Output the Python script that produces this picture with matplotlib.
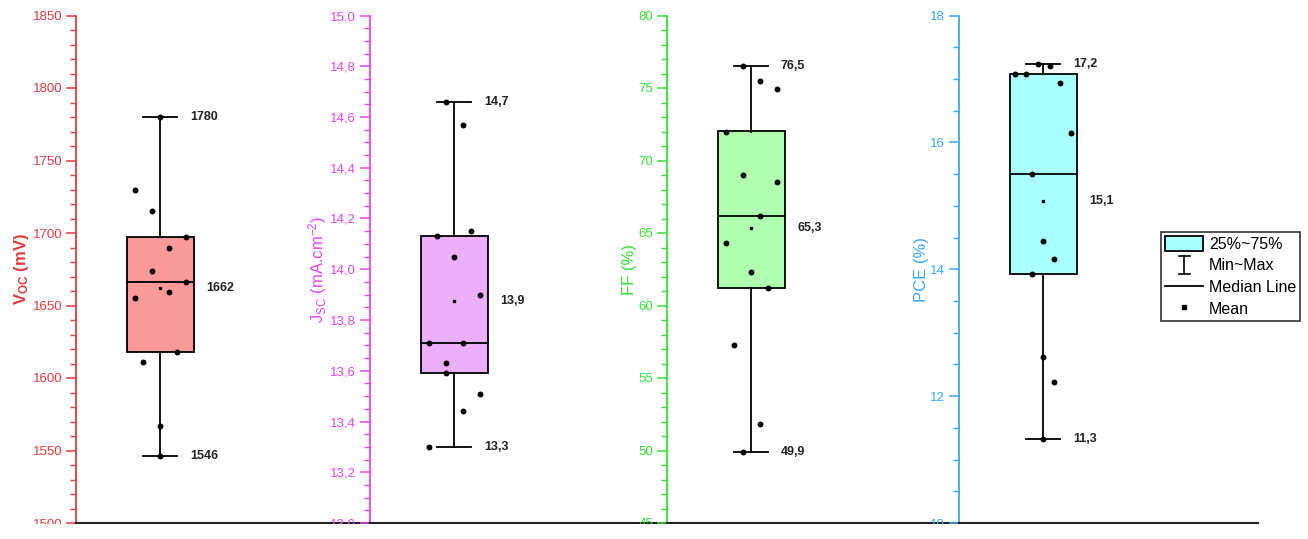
import matplotlib
matplotlib.use('Agg')
import matplotlib.pyplot as plt
import numpy as np
from matplotlib.ticker import MultipleLocator, FuncFormatter
from matplotlib.patches import Rectangle, Patch
from matplotlib.lines import Line2D
from matplotlib.legend_handler import HandlerBase

plt.rcParams['font.family'] = ['Liberation Sans', 'DejaVu Sans']
plt.rcParams['mathtext.fontset'] = 'custom'
plt.rcParams['mathtext.rm'] = 'Liberation Sans'
plt.rcParams['mathtext.bf'] = 'Liberation Sans:bold'
plt.rcParams['mathtext.it'] = 'Liberation Sans:italic'

# ---------------- data ----------------
voc = [1780, 1730, 1715, 1697, 1690, 1674, 1666, 1659, 1655, 1618, 1611, 1567, 1546]
voc_jitter = [0, -0.3, -0.1, 0.3, 0.1, -0.1, 0.3, 0.1, -0.3, 0.2, -0.2, 0, 0]
jsc = [14.66, 14.57, 14.15, 14.13, 14.05, 13.90, 13.71, 13.71, 13.63, 13.59, 13.51, 13.44, 13.30]
jsc_jitter = [-0.1, 0.1, 0.2, -0.2, 0, 0.3, -0.3, 0.1, -0.1, -0.1, 0.3, 0.1, -0.3]
ff = [76.5, 75.5, 74.9, 72.0, 69.0, 68.5, 66.2, 64.3, 62.3, 61.2, 57.3, 51.8, 49.9]
ff_jitter = [-0.1, 0.1, 0.3, -0.3, -0.1, 0.3, 0.1, -0.3, 0, 0.2, -0.2, 0.1, -0.1]
pce = [17.24, 17.21, 17.08, 17.08, 16.94, 16.15, 15.50, 14.44, 14.16, 13.93, 12.62, 12.23, 11.33]
pce_jitter = [-0.06, 0.075, -0.33, -0.2, 0.2, 0.33, -0.13, 0, 0.13, -0.13, 0, 0.13, 0]

ylabels = [r"V$_{\mathbf{OC}}$ (mV)", r"J$_{\mathrm{SC}}$ (mA.cm$^{\mathrm{-2}}$)", "FF (%)", "PCE (%)"]
legend_labels = ["25%~75%", "Min~Max", "Median Line", "Mean"]

panels = [
    dict(vals=voc, jit=voc_jitter, ylim=(1500, 1850), major=50, minor=10, tickdec=0, valdec=0,
         color='#E23B3B', fill='#FA9A9A', label=ylabels[0], bold=True),
    dict(vals=jsc, jit=jsc_jitter, ylim=(13.0, 15.0), major=0.2, minor=0.05, tickdec=1, valdec=1,
         color='#E646F2', fill='#EBAFFB', label=ylabels[1], bold=False),
    dict(vals=ff, jit=ff_jitter, ylim=(45, 80), major=5, minor=1, tickdec=0, valdec=1,
         color='#33E033', fill='#B0FFB0', label=ylabels[2], bold=False),
    dict(vals=pce, jit=pce_jitter, ylim=(10, 18), major=2, minor=0.5, tickdec=0, valdec=1,
         color='#3AA8FF', fill='#AAFFFF', label=ylabels[3], bold=False),
]

W, H = 1308, 539
fig = plt.figure(figsize=(W / 100, H / 100), dpi=100)
fig.patch.set_facecolor('white')

lefts = [76, 370, 667, 959]
rights = [370, 667, 959, 1258]
ax_top, ax_bot = 15.5, 523.0
PX_PER_UNIT = 84.3


def fmt(v, dec):
    return f"{v:.{dec}f}".replace('.', ',')


for p, l, r in zip(panels, lefts, rights):
    ax = fig.add_axes([l / W, 1 - ax_bot / H, (r - l) / W, (ax_bot - ax_top) / H])
    ax.set_facecolor('none')
    vals = np.array(p['vals'])
    jit = np.array(p['jit'])
    q1, med, q3 = np.percentile(vals, [25, 50, 75])
    mn, mx, mean = vals.min(), vals.max(), vals.mean()
    c = 1.0
    ax.add_patch(Rectangle((c - 0.4, q1), 0.8, q3 - q1, facecolor=p['fill'], edgecolor='black',
                           lw=1.3, zorder=2))
    ax.plot([c - 0.4, c + 0.4], [med, med], color='black', lw=1.3, zorder=3)
    ax.plot([c, c], [q3, mx], color='black', lw=1.3, zorder=2)
    ax.plot([c, c], [mn, q1], color='black', lw=1.3, zorder=2)
    ax.plot([c - 0.2, c + 0.2], [mx, mx], color='black', lw=1.3, zorder=2)
    ax.plot([c - 0.2, c + 0.2], [mn, mn], color='black', lw=1.3, zorder=2)
    ax.scatter(c + jit, vals, s=18, color='black', zorder=4, linewidths=0)
    ax.plot([c], [mean], marker='s', ms=2.0, color='black', ls='none', zorder=4)
    tk = dict(va='center', ha='left', fontsize=9, fontweight='bold', color='#222222')
    ax.text(c + 0.35, mx, fmt(mx, p['valdec']), **tk)
    ax.text(c + 0.35, mn, fmt(mn, p['valdec']), **tk)
    ax.text(c + 0.55, mean, fmt(mean, p['valdec']), **tk)

    ax.set_xlim(0, (r - l) / PX_PER_UNIT)
    ax.set_ylim(*p['ylim'])
    ax.yaxis.set_major_locator(MultipleLocator(p['major']))
    ax.yaxis.set_minor_locator(MultipleLocator(p['minor']))
    dec = p['tickdec']
    ax.yaxis.set_major_formatter(FuncFormatter(lambda v, pos, d=dec: fmt(v, d)))
    ax.set_xticks([])
    for s in ['top', 'right']:
        ax.spines[s].set_visible(False)
    ax.spines['left'].set_color(p['color'])
    ax.spines['left'].set_linewidth(1.3)
    ax.spines['bottom'].set_color('#222222')
    ax.spines['bottom'].set_linewidth(1.5)
    ax.tick_params(axis='y', which='major', length=7, width=1.1, color=p['color'],
                   labelcolor=p['color'], labelsize=9.5, pad=3)
    ax.tick_params(axis='y', which='minor', length=4, width=1.0, color=p['color'])
    ax.set_ylabel(p['label'], color=p['color'], fontsize=12,
                  fontweight='bold' if p['bold'] else 'normal', labelpad=1)

# white band that hides the lower half of the bottom tick labels
fig.add_artist(Rectangle((0, 0), 1, (H - ax_bot - 1) / H, transform=fig.transFigure,
                         facecolor='white', edgecolor='none', zorder=5))


class MinMaxHandle:
    pass


class HandlerMinMax(HandlerBase):
    def create_artists(self, legend, orig_handle, xdescent, ydescent, width, height,
                       fontsize, trans):
        cx = -xdescent + width / 2
        y0 = -ydescent - 0.1 * height
        y1 = -ydescent + 1.1 * height
        hw = 4
        arts = [Line2D([cx, cx], [y0, y1]),
                Line2D([cx - hw, cx + hw], [y0, y0]),
                Line2D([cx - hw, cx + hw], [y1, y1])]
        for a in arts:
            a.set_color('black')
            a.set_linewidth(1.2)
            a.set_transform(trans)
        return arts


handles = [Patch(facecolor=panels[3]['fill'], edgecolor='black', lw=1.3),
           MinMaxHandle(),
           Line2D([], [], color='black', lw=1.3),
           Line2D([], [], ls='none', marker='s', ms=3, mfc='black', mec='black')]
leg = fig.legend(handles=handles, labels=legend_labels, handler_map={MinMaxHandle: HandlerMinMax()},
                 loc='upper left', bbox_to_anchor=(1161 / W, 1 - 232 / H), frameon=True,
                 fancybox=False, edgecolor='black', fontsize=11.5, handlelength=2.4,
                 handleheight=1.05, labelspacing=0.36, borderpad=0.25, handletextpad=0.35,
                 borderaxespad=0)
leg.get_frame().set_linewidth(1.2)
leg.set_zorder(6)

fig.savefig('out.png', dpi=100, facecolor='white')
